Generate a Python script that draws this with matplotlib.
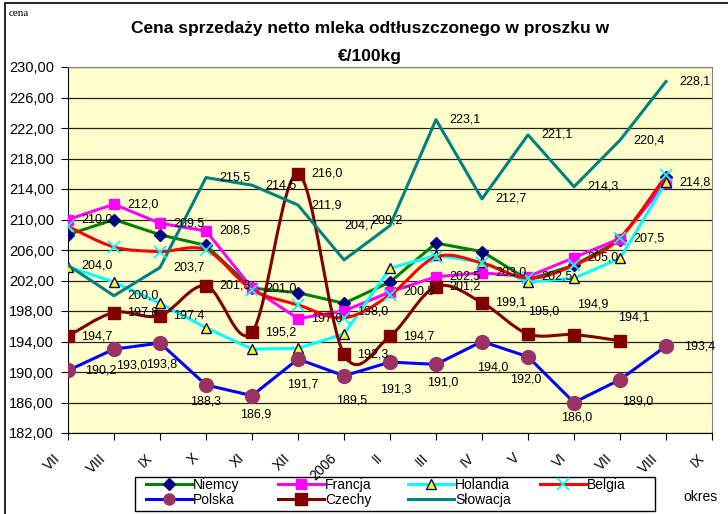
import numpy as np
import matplotlib
matplotlib.use("Agg")
import matplotlib.pyplot as plt
from matplotlib.path import Path
from matplotlib.patches import PathPatch, Rectangle
from matplotlib.lines import Line2D
from matplotlib.ticker import FuncFormatter
from matplotlib.transforms import ScaledTranslation, blended_transform_factory

plt.rcParams['font.family'] = ['Liberation Sans', 'DejaVu Sans']

# --- data ---
months = ['VII', 'VIII', 'IX', 'X', 'XI', 'XII', '2006', 'II', 'III', 'IV', 'V', 'VI', 'VII', 'VIII', 'IX']
niemcy = [208.0, 210.0, 208.0, 206.6, 201.0, 200.4, 199.0, 201.8, 206.9, 205.8, 202.1, 204.0, 207.3, 215.6]
francja = [210.0, 212.0, 209.5, 208.5, 201.0, 197.0, 198.0, 200.5, 202.5, 203.0, 202.5, 205.0, 207.5, 214.8]
holandia = [203.8, 201.8, 199.0, 195.8, 193.0, 193.1, 195.0, 203.6, 205.3, 204.4, 201.8, 202.3, 204.9, 214.9]
belgia = [209.1, 206.4, 205.8, 206.0, 200.8, 198.8, 197.1, 200.1, 205.1, 204.3, 202.3, 204.0, 207.6, 215.8]
polska = [190.2, 193.0, 193.8, 188.3, 186.9, 191.7, 189.5, 191.3, 191.0, 194.0, 192.0, 186.0, 189.0, 193.4]
czechy = [194.7, 197.8, 197.4, 201.3, 195.2, 216.0, 192.3, 194.7, 201.2, 199.1, 195.0, 194.9, 194.1, np.nan]
slowacja = [204.0, 200.0, 203.7, 215.5, 214.5, 211.9, 204.7, 209.2, 223.1, 212.7, 221.1, 214.3, 220.4, 228.1]

# label offsets in pixels (dx, dy), positive dy = up
polska_off = [(17, 0), (18, -16), (2, -21), (0, -17), (4, -19), (5, -25), (8, -25),
              (6, -27), (7, -18), (11, -26), (-2, -23), (3, -15), (18, -22), (18, 0)]
czechy_off = [(13, 0)] * 10 + [(0, 22), (3, 30), (-2, 23)]
slowacja_off = [(13, 0)] * 6 + [(0, 34), (-19, 5)] + [(13, 0)] * 6


def fmt(v):
    return f"{v:.1f}".replace('.', ',')


def smooth(ax, x, y, color, lw, z):
    # Excel-like smoothed line: catmull-rom drawn as bezier segments
    pts = np.array([(a, b) for a, b in zip(x, y) if not np.isnan(b)])
    n = len(pts)
    verts = [tuple(pts[0])]
    codes = [Path.MOVETO]
    for i in range(n - 1):
        p0 = pts[max(i - 1, 0)]
        p1 = pts[i]
        p2 = pts[i + 1]
        p3 = pts[min(i + 2, n - 1)]
        c1 = p1 + (p2 - p0) / 6
        c2 = p2 - (p3 - p1) / 6
        verts += [tuple(c1), tuple(c2), tuple(p2)]
        codes += [Path.CURVE4] * 3
    ax.add_patch(PathPatch(Path(verts, codes), fill=False, edgecolor=color, lw=lw, zorder=z,
                           capstyle='round', joinstyle='round'))


fig = plt.figure(figsize=(7.28, 5.14), dpi=100)
ax = fig.add_axes([68 / 728, 1 - 433 / 514, 644 / 728, 366 / 514])
ax.set_facecolor('#FFFFCC')

x = np.arange(len(niemcy))

ax.plot(x, niemcy, color='#008000', lw=2.2, marker='D', ms=6, mfc='#000080', mec='#000080', zorder=3)
ax.plot(x, francja, color='#FF00FF', lw=2.2, marker='s', ms=6.5, mfc='#FF00FF', mec='#FF00FF', zorder=3)
ax.plot(x, holandia, color='#00FFFF', lw=2.2, marker='^', ms=7, mfc='#FFFF00', mec='#000080', mew=1, zorder=3)
smooth(ax, x, belgia, '#FF0000', 2.2, 3)
ax.plot(x, belgia, ls='none', marker='x', ms=9, mec='#00FFFF', mew=1.3, zorder=4)
ax.plot(x, polska, color='#0000FF', lw=2.2, marker='o', ms=10, mfc='#993366', mec='#993366', zorder=3)
smooth(ax, x, czechy, '#800000', 2.2, 3)
ax.plot(x, czechy, ls='none', marker='s', ms=8, mfc='#800000', mec='#800000', zorder=4)
ax.plot(x, slowacja, color='#008080', lw=2.2, zorder=3)

# data labels
for i, v in enumerate(francja):
    ax.annotate(fmt(v), (i, v), xytext=(13 * 0.72, 0), textcoords='offset points',
                ha='left', va='center', fontsize=9, zorder=6)
for i, v in enumerate(czechy):
    if np.isnan(v):
        continue
    dx, dy = czechy_off[i]
    ax.annotate(fmt(v), (i, v), xytext=(dx * 0.72, dy * 0.72), textcoords='offset points',
                ha='left', va='center', fontsize=9, zorder=6)
for i, v in enumerate(slowacja):
    dx, dy = slowacja_off[i]
    ax.annotate(fmt(v), (i, v), xytext=(dx * 0.72, dy * 0.72), textcoords='offset points',
                ha='left', va='center', fontsize=9, zorder=6)
for i, v in enumerate(polska):
    dx, dy = polska_off[i]
    ha = 'left' if dy == 0 else 'center'
    ax.annotate(fmt(v), (i, v), xytext=(dx * 0.72, dy * 0.72), textcoords='offset points',
                ha=ha, va='center', fontsize=9, zorder=6)

ax.set_xlim(0, len(months) - 1)
ax.set_ylim(182, 230)
ax.set_yticks(np.arange(182, 231, 4))
ax.yaxis.set_major_formatter(FuncFormatter(lambda v, p: f"{v:.2f}".replace('.', ',')))
ax.set_xticks(np.arange(len(months)))
ax.set_xticklabels([])
# rotated month labels, nudged left/down like the original
tr = blended_transform_factory(ax.transData, ax.transAxes) + ScaledTranslation(-5 / 100, -18 / 100, fig.dpi_scale_trans)
for i, m in enumerate(months):
    ax.text(i, 0, m, transform=tr, rotation=45, ha='right', va='top', fontsize=10, clip_on=False)
ax.tick_params(axis='y', labelsize=10.5, length=5, pad=5, direction='out')
ax.tick_params(axis='x', length=5, direction='out')
ax.grid(axis='y', color='#222222', lw=0.9)
ax.set_axisbelow(True)
for s in ['top', 'right']:
    ax.spines[s].set_color('#808080')
for s in ['left', 'bottom']:
    ax.spines[s].set_color('#000000')

# texts
fig.text(370 / 728, 1 - 28 / 514, 'Cena sprzedaży netto mleka odtłuszczonego w proszku w',
         ha='center', va='center', fontsize=12.5, fontweight='bold')
fig.text(370 / 728, 1 - 56 / 514, '€/100kg', ha='center', va='center', fontsize=12.5, fontweight='bold')
fig.text(9 / 728, 1 - 13 / 514, 'cena', ha='left', va='center', fontsize=8, family='Liberation Serif')
fig.text(683 / 728, 1 - 497 / 514, 'okres', ha='left', va='center', fontsize=10)

# legend: four single-column legends on an even grid, like the Excel legend
handles = [
    Line2D([], [], color='#008000', lw=2.2, marker='D', ms=6, mfc='#000080', mec='#000080'),
    Line2D([], [], color='#0000FF', lw=2.2, marker='o', ms=8, mfc='#993366', mec='#993366'),
    Line2D([], [], color='#FF00FF', lw=2.2, marker='s', ms=6.5, mfc='#FF00FF', mec='#FF00FF'),
    Line2D([], [], color='#800000', lw=2.2, marker='s', ms=8, mfc='#800000', mec='#800000'),
    Line2D([], [], color='#00FFFF', lw=2.2, marker='^', ms=7, mfc='#FFFF00', mec='#000080'),
    Line2D([], [], color='#008080', lw=2.2),
    Line2D([], [], color='#FF0000', lw=2.2, marker='x', ms=9, mec='#00FFFF', mew=1.3),
]
names = ['Niemcy', 'Polska', 'Francja', 'Czechy', 'Holandia', 'Słowacja', 'Belgia']
col_x = [146, 278, 408, 540]
for c in range(4):
    h = handles[2 * c:2 * c + 2]
    n = names[2 * c:2 * c + 2]
    fig.legend(h, n, loc='upper left', bbox_to_anchor=(col_x[c] / 728, 1 - 478 / 514),
               fontsize=10, frameon=False, handlelength=3.3, handletextpad=0.1,
               labelspacing=0.05, borderpad=0, borderaxespad=0)
fig.patches.append(Rectangle((135 / 728, 1 - 511 / 514), 520 / 728, 34 / 514, transform=fig.transFigure,
                             facecolor='white', edgecolor='#000000', lw=1.0, zorder=-1))

# chart area border
fig.patches.append(Rectangle((5 / 728, -0.01), 1.0, 1 - 3 / 514 + 0.01, transform=fig.transFigure,
                             fill=False, edgecolor='#000000', lw=1.2, clip_on=False))

fig.savefig('out.png', dpi=100)
